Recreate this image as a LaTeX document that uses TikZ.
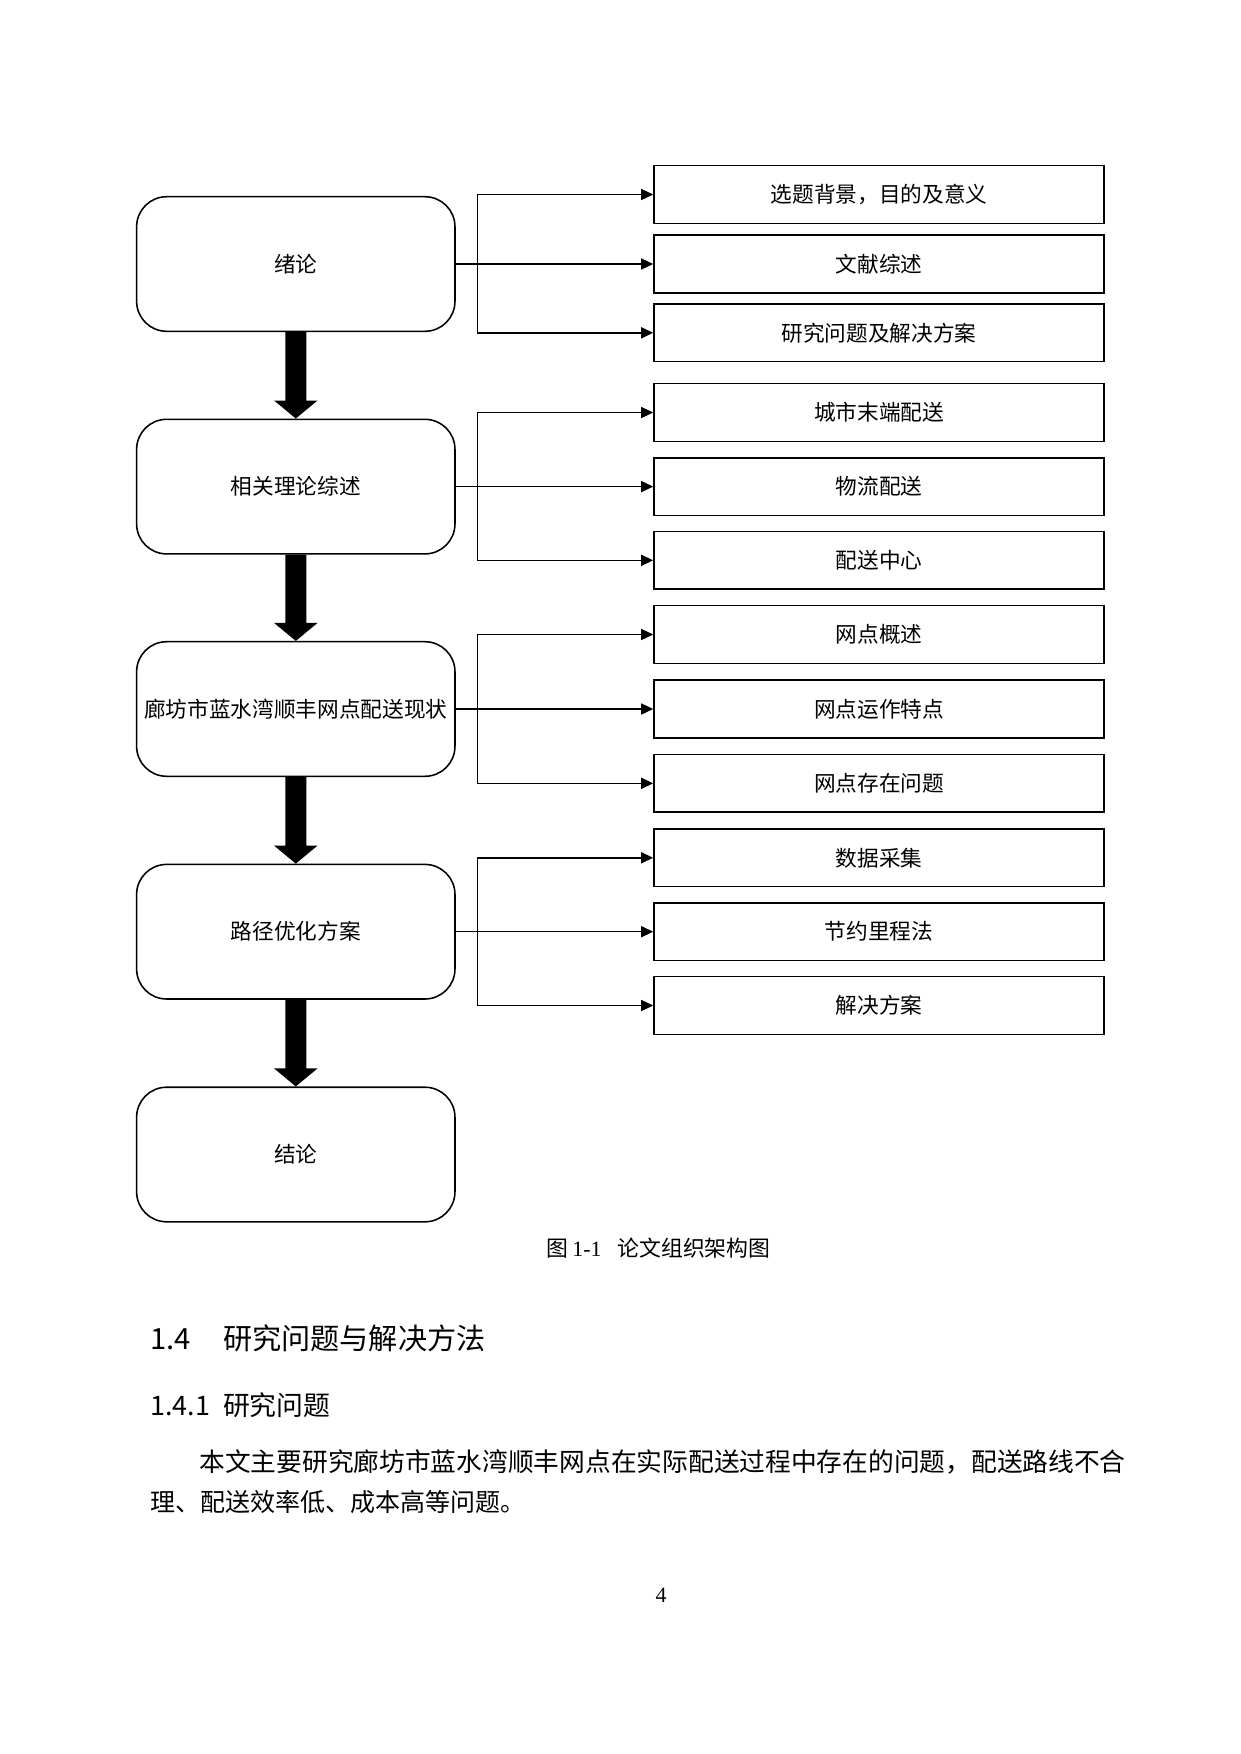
\documentclass[tikz,border=0pt]{standalone}
\usepackage{fontspec}
\setmainfont{Liberation Serif}
\newfontfamily\cjk{Noto Sans CJK SC}
\usetikzlibrary{arrows.meta,calc}
\begin{document}
\begin{tikzpicture}[x=0.48bp,y=-0.48bp,
  mainbox/.style={draw, line width=0.75bp, rounded corners=14.4bp,
    minimum width=152.8bp, minimum height=64.6bp, inner sep=0pt,
    font=\cjk\fontsize{10.4bp}{12bp}\selectfont},
  subbox/.style={draw, line width=0.75bp, minimum width=216bp,
    minimum height=27.7bp, inner sep=0pt,
    font=\cjk\fontsize{10.4bp}{12bp}\selectfont},
  link/.style={line width=0.75bp, line join=miter},
  tip/.tip={Triangle[length=5.8bp,width=5.3bp]},
  txt/.style={anchor=base west, inner sep=0pt}]
\useasboundingbox (0,0) rectangle (1240,1754);

% main column
\node[mainbox] (m1) at (295.8,264)    {绪论};
\node[mainbox] (m2) at (295.8,486.6)  {相关理论综述};
\node[mainbox] (m3) at (295.8,709)    {廊坊市蓝水湾顺丰网点配送现状};
\node[mainbox] (m4) at (295.8,931.7)  {路径优化方案};
\node[mainbox] (m5) at (295.8,1154.5) {结论};

% right column
\node[subbox] (s1a) at (879,194.5) {选题背景，目的及意义};
\node[subbox] (s1b) at (879,264)   {文献综述};
\node[subbox] (s1c) at (879,332.8) {研究问题及解决方案};
\node[subbox] (s2a) at (879,412.5) {城市末端配送};
\node[subbox] (s2b) at (879,486.6) {物流配送};
\node[subbox] (s2c) at (879,560.3) {配送中心};
\node[subbox] (s3a) at (879,634.5) {网点概述};
\node[subbox] (s3b) at (879,709)   {网点运作特点};
\node[subbox] (s3c) at (879,783.3) {网点存在问题};
\node[subbox] (s4a) at (879,857.8) {数据采集};
\node[subbox] (s4b) at (879,931.7) {节约里程法};
\node[subbox] (s4c) at (879,1005.5){解决方案};

% branch connectors
\foreach \i in {1,2,3,4}{
  \coordinate (j\i) at ($(m\i.east)+(21.7,0)$);
  \draw[link,-tip] (m\i.east) -- (s\i b.west);
  \draw[link,tip-tip] (s\i a.west) -- (j\i |- s\i a.west) -- (j\i |- s\i c.west) -- (s\i c.west);
}

% thick down arrows
\foreach \i/\k in {1/2,2/3,3/4,4/5}{
  \fill ($(m\i.south)+(-10.5,0)$) -- ($(m\k.north)+(-10.5,-18)$)
    -- ($(m\k.north)+(-21.7,-18)$) -- (m\k.north)
    -- ($(m\k.north)+(21.7,-18)$) -- ($(m\k.north)+(10.5,-18)$)
    -- ($(m\i.south)+(10.5,0)$) -- cycle;
}

% caption
\node[txt, font=\fontsize{10.5bp}{12bp}\selectfont] (cap) at (546,1256)
  {{\cjk 图}\hspace{2bp}1-1\hspace{7.6bp}{\cjk 论文组织架构图}};

% headings
\node[txt, font=\cjk\fontsize{14bp}{17bp}\selectfont] (h1n) at (150,1349) {1.4};
\node[txt, font=\cjk\fontsize{14bp}{17bp}\selectfont] (h1t) at (222.6,1349) {研究问题与解决方法};
\node[txt, font=\cjk\fontsize{12.9bp}{15bp}\selectfont] (h2n) at (150,1415) {1.4.1};
\node[txt, font=\cjk\fontsize{12.9bp}{15bp}\selectfont] (h2t) at (222.6,1415) {研究问题};

% body text
\node[txt, font=\cjk\fontsize{12.35bp}{15bp}\selectfont] (b1) at (199,1471)
  {本文主要研究廊坊市蓝水湾顺丰网点在实际配送过程中存在的问题，配送路线不合};
\node[txt, font=\cjk\fontsize{12bp}{15bp}\selectfont] (b2) at (150,1511)
  {理、配送效率低、成本高等问题。};

% page number
\node[anchor=base, inner sep=0pt, font=\fontsize{10.5bp}{12bp}\selectfont] (pg) at (661,1602) {4};
\end{tikzpicture}
\end{document}
